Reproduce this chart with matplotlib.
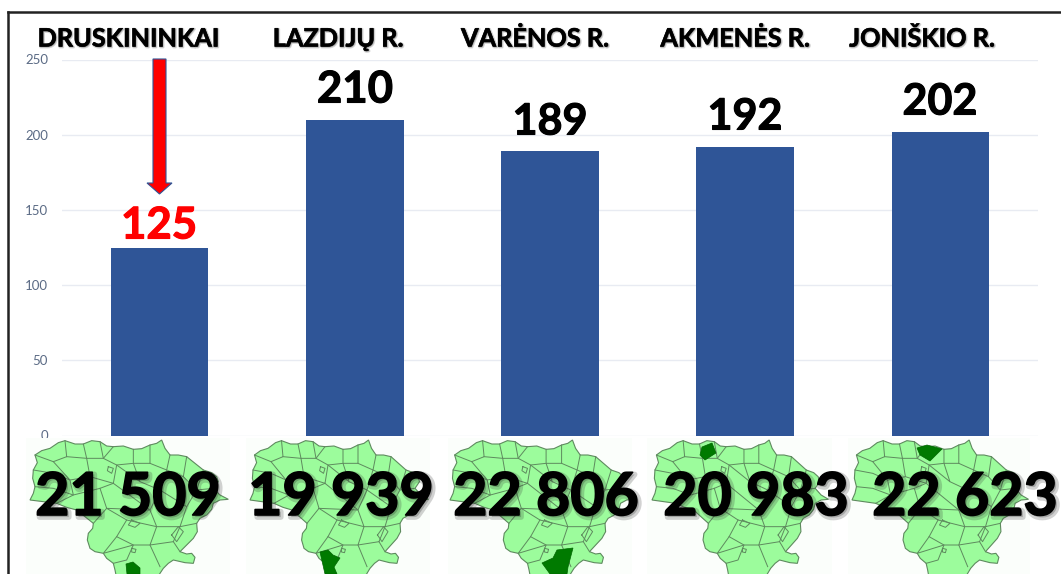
import matplotlib
matplotlib.use("Agg")
import matplotlib.pyplot as plt
import matplotlib.patheffects as pe
from matplotlib.patches import Polygon, Rectangle

areas = ["DRUSKININKAI", "LAZDIJŲ R.", "VARĖNOS R.", "AKMENĖS R.", "JONIŠKIO R."]
values = [125, 210, 189, 192, 202]
population = ["21 509", "19 939", "22 806", "20 983", "22 623"]
yticks = [0, 50, 100, 150, 200, 250]

BLUE = "#2F5597"
plt.rcParams["font.family"] = ["Lato", "DejaVu Sans"]

W, H = 1061, 574
fig = plt.figure(figsize=(W / 100, H / 100), dpi=100, facecolor="white")
ax = fig.add_axes([62 / W, 1 - 435.5 / H, (1038 - 62) / W, (435.5 - 59.5) / H])
ax.bar(range(len(values)), values, width=0.5, color=BLUE, zorder=3)
ax.set_xlim(-0.5, 4.5)
ax.set_ylim(0, 250)
ax.set_yticks(yticks)
ax.set_xticks([])
ax.tick_params(axis="y", length=0, pad=10, labelsize=9.5, labelcolor="#5B6B85")
ax.grid(axis="y", color="#E8EBF2", lw=1, zorder=0)
for s in ax.spines.values():
    s.set_visible(False)

# overlay in pixel coordinates
ov = fig.add_axes([0, 0, 1, 1], facecolor="none")
ov.set_xlim(0, W)
ov.set_ylim(H, 0)
ov.axis("off")

ov.plot([8, 8], [12, H], color="#222222", lw=1.8, zorder=1)
ov.plot([8, W], [12, 12], color="#222222", lw=1.8, zorder=1)

# value labels
label_pos = [(159, 222), (355, 86), (550, 118), (745, 113), (940, 98)]
label_size = [31.5, 31.5, 31, 31, 31]
for v, (x, y), fs, i in zip(values, label_pos, label_size, range(5)):
    c = "red" if i == 0 else "black"
    ov.text(x, y, str(v), ha="center", va="center_baseline", fontsize=fs, fontweight="bold", color=c, zorder=6,
            path_effects=[pe.Stroke(linewidth=0.8, foreground=c), pe.Normal()])

# area titles
title_x = [128, 338, 535, 735, 922]
for name, x in zip(areas, title_x):
    ov.text(x, 37, name, ha="center", va="center_baseline", fontsize=18.2, fontweight="bold",
            color="black", zorder=6,
            path_effects=[pe.Stroke(linewidth=1.6, foreground="#888888", alpha=0.35, offset=(0.6, -0.6)),
                          pe.Stroke(linewidth=0.4, foreground="black"), pe.Normal()])

# arrow
ov.add_patch(Polygon([(153, 59), (166, 59), (166, 183), (172, 183), (159.5, 194),
                      (147, 183), (153, 183)], closed=True, fc="#FF0000", ec=BLUE, lw=0.8, zorder=5))

# map of Lithuania, in the coordinates of the first map
outline = [(105, 105), (125, 92), (150, 85), (175, 68), (195, 62), (225, 72), (250, 72), (275, 62), (300, 65),
           (320, 78), (340, 80), (370, 78), (400, 88), (425, 86), (450, 75), (470, 70), (485, 60), (495, 85),
           (510, 105), (535, 105), (560, 110), (585, 130), (610, 150), (635, 158), (650, 170), (655, 185),
           (640, 205), (660, 225), (685, 238), (660, 240), (640, 250), (635, 268), (620, 285), (600, 295),
           (590, 310), (592, 335), (580, 355), (560, 375), (540, 395), (560, 402), (575, 400), (585, 412),
           (580, 430), (555, 428), (520, 420), (505, 430), (490, 445), (470, 475), (350, 475), (345, 450),
           (340, 430), (320, 415), (310, 400), (285, 395), (270, 385), (262, 360), (265, 340), (278, 325),
           (280, 310), (255, 290), (230, 270), (200, 262), (170, 250), (130, 245), (90, 240), (100, 220),
           (105, 200), (98, 175), (100, 150), (112, 128)]
borders = [
    [(195, 62), (200, 110), (160, 125), (105, 105)],
    [(250, 72), (260, 115), (200, 110)],
    [(300, 65), (310, 115), (260, 115), (270, 170), (210, 180), (160, 125)],
    [(340, 80), (310, 115), (350, 135), (400, 130), (400, 88)],
    [(450, 75), (450, 130), (400, 130), (420, 185), (350, 135), (340, 190), (270, 170)],
    [(510, 105), (500, 150), (450, 130)],
    [(560, 110), (550, 170), (500, 150), (480, 210), (420, 185)],
    [(610, 150), (590, 210), (550, 170)],
    [(640, 205), (590, 210), (560, 260), (480, 210), (450, 270), (340, 190)],
    [(100, 150), (160, 160), (210, 180), (220, 225), (170, 250)],
    [(105, 200), (160, 205), (220, 225), (300, 205), (340, 190)],
    [(300, 205), (320, 265), (450, 270), (470, 320), (380, 300), (320, 265), (280, 310)],
    [(560, 260), (540, 320), (470, 320), (450, 375), (520, 365), (540, 320), (590, 310)],
    [(380, 300), (350, 350), (310, 400), (400, 375), (450, 375), (480, 440)],
    [(350, 350), (400, 375), (380, 420), (340, 430)],
    [(520, 365), (540, 395)],
    [(395, 300), (420, 310), (405, 322), (385, 315), (395, 300)],
    [(395, 385), (408, 388), (405, 398), (395, 396), (395, 385)],
    [(325, 140), (340, 145), (335, 160), (322, 152), (325, 140)],
    [(515, 345), (535, 320), (550, 335), (530, 365), (515, 345)],
]
map_left = [30, 250, 450, 652, 852]
map_scale = [1.0, 0.90, 0.93, 0.89, 0.89]
back = [(26, 230), (246, 430), (448, 632), (647, 832), (848, 1030)]
highlights = [
    [(126, 564), (133, 562), (140, 568), (140, 574), (127, 574)],
    [(320, 552), (328, 550), (333, 555), (340, 558), (334, 567), (337, 574), (325, 574)],
    [(542, 563), (553, 558), (557, 550), (573, 548), (568, 567), (567, 574), (550, 574)],
    [(702, 447), (712, 443), (716, 453), (705, 460), (700, 455)],
    [(917, 448), (927, 445), (942, 449), (930, 461), (920, 455)],
]
LINE = "#5E8A5E"
for left, sc, (b0, b1), hl in zip(map_left, map_scale, back, highlights):
    tx = lambda p: (left + (p[0] - 90) / 3 * sc, 420 + p[1] / 3)
    ov.add_patch(Rectangle((b0, 438), b1 - b0, H - 438, fc="#FBFEFB", ec="none", zorder=2))
    ov.add_patch(Polygon([tx(p) for p in outline], closed=True, fc="#9CFC9C", ec=LINE, lw=0.8, zorder=3))
    for line in borders:
        xs, ys = zip(*[tx(p) for p in line])
        ov.plot(xs, ys, color=LINE, lw=0.7, zorder=3.1)
    ov.add_patch(Polygon(hl, closed=True, fc="#007A00", ec="#006400", lw=0.5, zorder=3.2))

# population labels
pop_x = [128, 341, 546, 756, 965]
for txt, x in zip(population, pop_x):
    ov.text(x, 493, txt, ha="center", va="center_baseline", fontsize=42.5, fontweight="bold", color="black", zorder=6,
            path_effects=[pe.Stroke(linewidth=4, foreground="#333333", alpha=0.22, offset=(1.5, -1.5)),
                          pe.Stroke(linewidth=1.2, foreground="black"), pe.Normal()])

fig.savefig("out.png", dpi=100, facecolor="white")
